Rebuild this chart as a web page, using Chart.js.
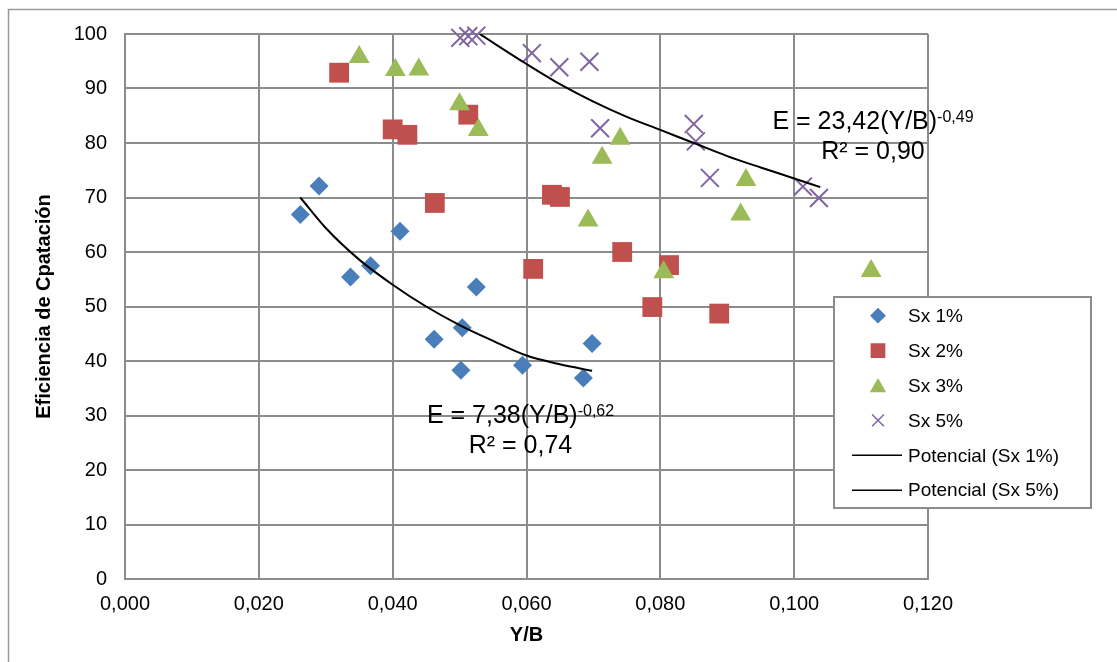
<!DOCTYPE html>
<html>
<head>
<meta charset="utf-8">
<script src="https://cdn.jsdelivr.net/npm/chart.js@4.4.1/dist/chart.umd.min.js"></script>
<style>
  html, body { margin: 0; padding: 0; background: #fff; }
  #wrap { width: 1117px; height: 662px; }
</style>
</head>
<body>
<div id="wrap"><canvas id="chart" width="1117" height="662"></canvas></div>
<script>
/* ---- data ---- */
const xTickLabels = ['0,000', '0,020', '0,040', '0,060', '0,080', '0,100', '0,120'];
const yTickLabels = ['0', '10', '20', '30', '40', '50', '60', '70', '80', '90', '100'];

const sx1X = [0.0262, 0.0290, 0.0337, 0.0367, 0.0411, 0.0462, 0.0502, 0.0504, 0.0525, 0.0594, 0.0685, 0.0698];
const sx1Y = [66.9, 72.1, 55.4, 57.5, 63.8, 44.0, 38.3, 46.1, 53.6, 39.2, 36.9, 43.2];

const sx2X = [0.0320, 0.0400, 0.0422, 0.0463, 0.0513, 0.0610, 0.0638, 0.0650, 0.0743, 0.0788, 0.0813, 0.0888];
const sx2Y = [92.9, 82.5, 81.5, 69.0, 85.2, 56.9, 70.5, 70.1, 60.0, 49.9, 57.6, 48.7];

const sx3X = [0.0350, 0.0404, 0.0439, 0.0500, 0.0528, 0.0692, 0.0713, 0.0740, 0.0805, 0.0920, 0.0928, 0.1115];
const sx3Y = [95.8, 93.4, 93.5, 87.1, 82.4, 65.8, 77.3, 80.8, 56.3, 66.9, 73.2, 56.5];

const sx5X = [0.0501, 0.0513, 0.0525, 0.0608, 0.0649, 0.0694, 0.0710, 0.0850, 0.0853, 0.0874, 0.1013, 0.1037];
const sx5Y = [99.3, 99.6, 99.7, 96.5, 93.9, 94.9, 82.7, 83.5, 80.3, 73.6, 72.0, 69.9];

// trend curves
const trend1X = [0.0262, 0.030, 0.035, 0.040, 0.045, 0.050, 0.055, 0.060, 0.065, 0.0698];
const trend1Y = [70.0, 64.4, 58.6, 54.0, 50.0, 46.6, 43.7, 41.0, 39.4, 38.2];
const trend5X = [0.0530, 0.060, 0.065, 0.070, 0.075, 0.080, 0.085, 0.090, 0.095, 0.100, 0.1039];
const trend5Y = [100.0, 94.5, 90.8, 87.6, 84.8, 82.4, 80.0, 77.6, 75.5, 73.5, 71.9];

const seriesLabels = ['Sx 1%', 'Sx 2%', 'Sx 3%', 'Sx 5%', 'Potencial (Sx 1%)', 'Potencial (Sx 5%)'];
const eq1 = ['E = 7,38(Y/B)', '-0,62', 'R² = 0,74'];
const eq5 = ['E = 23,42(Y/B)', '-0,49', 'R² = 0,90'];

const pts = (xs, ys) => xs.map((x, i) => ({ x, y: ys[i] }));

const FONT = '"Liberation Sans", Arial, sans-serif';
const GRID = '#8c8c8c';
const BLUE = '#4a7ebb', RED = '#c0504d', GREEN = '#9bbb59', PURPLE = '#8064a2';

Chart.defaults.font.family = FONT;
Chart.defaults.color = '#000';

/* ---- equations, legend, outer frame ---- */
function drawEq(ctx, cx, base, txt) {
  ctx.font = '25px ' + FONT;
  const w1 = ctx.measureText(txt[0]).width;
  ctx.font = '16px ' + FONT;
  const w2 = ctx.measureText(txt[1]).width;
  const left = cx - (w1 + w2) / 2;
  ctx.textAlign = 'left';
  ctx.textBaseline = 'alphabetic';
  ctx.fillStyle = '#000';
  ctx.font = '25px ' + FONT;
  ctx.fillText(txt[0], left, base);
  ctx.font = '16px ' + FONT;
  ctx.fillText(txt[1], left + w1, base - 7);
  ctx.font = '25px ' + FONT;
  ctx.textAlign = 'center';
  ctx.fillText(txt[2], cx, base + 30);
}

const decor = {
  id: 'decor',
  beforeDraw(chart) {
    const ctx = chart.ctx;
    ctx.save();
    ctx.strokeStyle = '#9a9a9a';
    ctx.lineWidth = 1.5;
    ctx.strokeRect(8.5, 9.5, 1200, 800);
    ctx.restore();
  },
  afterDraw(chart) {
    const ctx = chart.ctx;
    ctx.save();
    drawEq(ctx, 520.5, 423, eq1);
    drawEq(ctx, 873, 129, eq5);

    // legend box
    ctx.fillStyle = '#fff';
    ctx.fillRect(834, 297, 257, 211);
    ctx.strokeStyle = GRID;
    ctx.lineWidth = 2;
    ctx.strokeRect(834, 297, 257, 211);

    const marks = [
      { pointStyle: 'rectRot', radius: 6.5, color: BLUE },
      { pointStyle: 'rect', radius: 9, color: RED },
      { pointStyle: 'triangle', radius: 7.5, color: GREEN },
      { pointStyle: 'crossRot', radius: 8.3, color: PURPLE },
    ];
    const rowY = (i) => 315.7 + i * 34.9;
    seriesLabels.forEach((lab, i) => {
      const y = rowY(i);
      if (i < 4) {
        const m = marks[i];
        ctx.fillStyle = m.color;
        ctx.strokeStyle = m.color;
        ctx.lineWidth = m.pointStyle === 'crossRot' ? 1.5 : 0;
        Chart.helpers.drawPoint(ctx, { pointStyle: m.pointStyle, radius: m.radius, rotation: 0, borderWidth: ctx.lineWidth },
          878, i === 2 ? y + 2 : y);
      } else {
        ctx.strokeStyle = '#000';
        ctx.lineWidth = 1.5;
        ctx.beginPath();
        ctx.moveTo(852, y);
        ctx.lineTo(902, y);
        ctx.stroke();
      }
      ctx.fillStyle = '#000';
      ctx.font = '19px ' + FONT;
      ctx.textAlign = 'left';
      ctx.textBaseline = 'middle';
      ctx.fillText(lab, 908, y + 1);
    });
    ctx.restore();
  },
};

new Chart(document.getElementById('chart'), {
  type: 'scatter',
  data: {
    datasets: [
      { label: seriesLabels[4], data: pts(trend1X, trend1Y), showLine: true, borderColor: '#000', borderWidth: 2,
        pointRadius: 0, cubicInterpolationMode: 'monotone', order: 0 },
      { label: seriesLabels[5], data: pts(trend5X, trend5Y), showLine: true, borderColor: '#000', borderWidth: 2,
        pointRadius: 0, cubicInterpolationMode: 'monotone', order: 1 },
      { label: seriesLabels[0], data: pts(sx1X, sx1Y), pointStyle: 'rectRot', pointRadius: 9.5, clip: false,
        backgroundColor: BLUE, borderColor: BLUE, pointBorderWidth: 0, order: 6 },
      { label: seriesLabels[1], data: pts(sx2X, sx2Y), pointStyle: 'rect', pointRadius: 14, clip: false,
        backgroundColor: RED, borderColor: RED, pointBorderWidth: 0, order: 5 },
      { label: seriesLabels[2], data: pts(sx3X, sx3Y), pointStyle: 'triangle', pointRadius: 12, clip: false,
        backgroundColor: GREEN, borderColor: GREEN, pointBorderWidth: 0, order: 4 },
      { label: seriesLabels[3], data: pts(sx5X, sx5Y), pointStyle: 'crossRot', pointRadius: 12.7, clip: false,
        backgroundColor: PURPLE, borderColor: PURPLE, pointBorderWidth: 2, order: 3 },
    ],
  },
  options: {
    responsive: false,
    animation: false,
    layout: { padding: { left: 0, top: 34, right: 189, bottom: 0 } },
    plugins: { legend: { display: false }, tooltip: { enabled: false } },
    scales: {
      x: {
        type: 'linear', min: 0, max: 0.12,
        afterFit: (s) => { s.height = 83; },
        ticks: { stepSize: 0.02, padding: 13, font: { size: 20 }, color: '#000', maxRotation: 0,
          callback: (v, i) => xTickLabels[i] },
        grid: { color: GRID, lineWidth: 2, drawTicks: false },
        border: { color: GRID, width: 2 },
        title: { display: true, text: 'Y/B', font: { size: 20, weight: 'bold' }, color: '#000', padding: { top: 0, bottom: 15 } },
      },
      y: {
        min: 0, max: 100,
        afterFit: (s) => { s.width = 125; },
        ticks: { stepSize: 10, padding: 18, font: { size: 20 }, color: '#000',
          callback: (v, i) => yTickLabels[i] },
        grid: { color: GRID, lineWidth: 2, drawTicks: false },
        border: { color: GRID, width: 2 },
        title: { display: true, text: 'Eficiencia de Cpatación', font: { size: 20, weight: 'bold' }, color: '#000', padding: { top: 32, bottom: 0 } },
      },
    },
  },
  plugins: [decor],
});
</script>
</body>
</html>
